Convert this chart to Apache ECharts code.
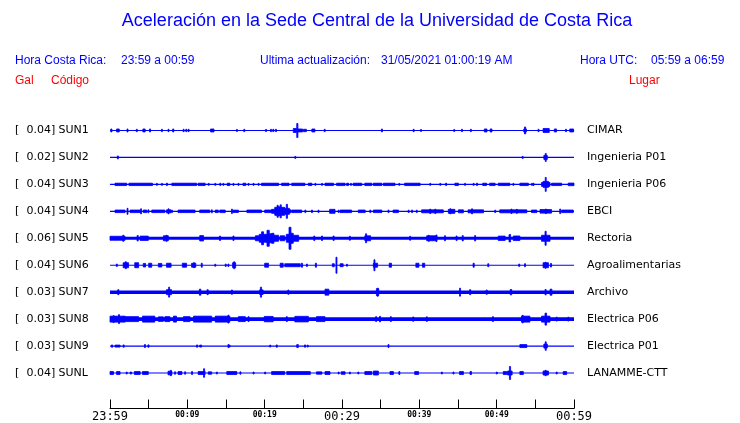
<!DOCTYPE html>
<html><head><meta charset="utf-8">
<script src="https://cdn.jsdelivr.net/npm/echarts@6/dist/echarts.min.js"></script>
<style>html,body{margin:0;padding:0;background:#fff}#c{width:740px;height:423px}</style>
</head><body><div id="c"></div>
<script>
// ---- DATA ----
const titleText = 'Aceleración en la Sede Central de la Universidad de Costa Rica';
const headerLabels = ['Hora Costa Rica:', 'Ultima actualización:', 'Hora UTC:'];
const headerValues = ['23:59 a 00:59', '31/05/2021 01:00:19 AM', '05:59 a 06:59'];
const columnHeads = ['Gal', 'Código', 'Lugar'];
const stations = ['SUN1','SUN2','SUN3','SUN4','SUN5','SUN6','SUN7','SUN8','SUN9','SUNL'];
const galValues = ['0.04','0.02','0.04','0.04','0.06','0.04','0.03','0.03','0.03','0.04'];
const places = ['CIMAR','Ingenieria P01','Ingenieria P06','EBCI','Rectoria','Agroalimentarias','Archivo','Electrica P06','Electrica P01','LANAMME-CTT'];
const tickLabels = ['23:59','','00:09','','00:19','','00:29','','00:39','','00:49','','00:59'];
// background noise half-amplitude of each trace
const noise = [0.6,0.6,0.6,0.6,1.6,0.6,1.8,1.8,0.6,0.6];
// bursts: [start minute, end minute, half-amplitude]
const sun1 = [[0.1,0.25,1.5],[0.85,1.2,1.5],[2.2,2.3,1.5],[3.4,3.5,1.2],[4.25,4.55,1.5],[5.1,5.25,1.5],[6.65,6.75,1.2],[7.5,7.6,1.2],[8.1,8.25,1.5],[9.45,9.55,1.2],[9.8,9.9,1.2],[10.1,10.2,1.2],[13.0,13.45,1.5],[16.35,16.45,1],[17.3,17.4,1.2],[20.1,20.25,1],[20.75,20.85,1.2],[21.05,21.15,1.2],[21.4,21.5,1.2],[23.7,24.1,2],[24.15,24.3,7],[24.3,24.9,1.5],[25.0,25.4,1.2],[26.1,26.5,1.5],[27.7,27.8,1.2],[35.1,35.2,1.5],[39.2,39.3,1.2],[40.15,40.25,1],[44.45,44.55,1],[45.45,45.55,1.2],[46.6,46.7,1.2],[48.4,48.75,1.5],[49.15,49.4,1.5],[53.5,53.85,1.5],[53.6,53.75,3.5],[55.35,55.45,1.2],[56.0,56.8,2],[57.45,57.75,1.5],[58.9,59.0,1.2],[59.45,59.95,1.5]];
const sun2 = [[0.95,1.05,1.5],[23.9,24.0,1],[53.3,53.4,1],[56.1,56.55,2],[56.28,56.4,4]];
const sun3 = [[0.65,2.15,1.2],[2.45,5.5,1.2],[6.0,6.1,1],[6.65,6.75,1],[7.3,7.4,1.2],[8.0,11.2,1.2],[11.4,12.3,1.2],[12.7,12.8,1],[13.55,13.65,1],[14.2,14.3,1.2],[14.6,14.7,1],[15.15,15.5,1.2],[15.9,16.0,1],[16.55,16.65,1],[17.2,17.55,1.2],[17.85,17.95,1],[18.5,18.6,1],[19.15,19.25,1],[19.6,21.8,1.2],[22.2,23.15,1.2],[23.5,25.2,1.2],[25.65,26.1,1.2],[26.5,26.6,1],[27.35,27.45,1],[27.8,28.9,1.2],[29.3,30.4,1.2],[30.6,30.85,1.2],[31.1,31.2,1],[31.45,32.55,1.2],[32.95,33.85,1.2],[34.05,35.15,1.2],[35.35,36.85,1.2],[37.35,37.45,1],[38.1,40.1,1.2],[41.35,41.45,1],[42.65,42.75,1],[43.4,43.5,1.2],[44.6,45.05,1.2],[45.85,45.95,1],[46.95,47.05,1],[47.4,47.5,1.2],[48.2,48.7,1.2],[49.1,49.8,1.2],[50.2,51.7,1.2],[52.1,52.2,1],[53.0,54.1,1.2],[54.5,54.6,1],[54.7,54.8,1.2],[55.8,56.9,2],[56.0,56.7,3],[56.28,56.4,7],[57.1,58.4,1.2],[59.25,60.0,1.3]];
const sun4 = [[0.65,1.95,1.3],[2.2,2.3,3],[2.6,3.9,1.3],[3.95,4.05,2.5],[4.3,4.75,1.3],[4.9,5.0,1.5],[5.4,7.1,1.3],[7.3,7.9,1.5],[7.5,7.6,2.5],[7.95,8.05,1.2],[8.8,11.0,1.3],[11.6,12.9,1.3],[13.1,13.2,1.5],[13.6,14.0,1.3],[14.2,14.9,1.3],[15.7,15.8,2.2],[15.9,16.6,1.2],[17.7,19.6,1.3],[20.0,20.9,1.3],[20.9,21.3,2],[21.3,21.6,4],[21.6,21.75,6],[21.75,22.0,4.5],[22.0,22.15,6.5],[22.15,22.6,4],[22.6,22.8,3],[22.8,22.95,7],[22.95,23.2,3],[23.2,23.4,1.5],[23.5,24.8,1.3],[25.2,25.3,1.3],[26.05,26.15,1.3],[26.9,27.0,1.2],[28.4,29.1,2],[29.5,29.6,1.2],[29.75,31.25,1.3],[32.1,33.0,1.3],[33.6,33.7,1.3],[34.05,35.15,1.3],[35.95,36.05,1.3],[36.6,37.3,1.3],[38.55,38.65,1.2],[39.0,39.1,1.3],[39.6,39.7,1.2],[40.3,43.1,1.5],[41.35,41.45,2.2],[42.0,42.1,2.2],[43.75,44.6,2],[43.95,44.05,2.5],[45.05,45.7,1.5],[46.3,48.3,1.5],[46.75,46.85,2.5],[49.75,49.85,1.2],[50.4,53.9,1.5],[51.85,51.95,2.2],[52.55,52.65,2],[54.5,55.2,1.3],[55.6,57.1,1.8],[56.3,56.4,2.3],[58.15,58.25,2.3],[58.4,59.9,1.3]];
const sun5 = [[0.0,1.95,2],[1.65,1.8,3],[3.5,3.65,2.7],[3.9,4.95,2.2],[6.9,7.55,2.5],[7.25,7.35,3],[11.6,12.1,2.7],[14.15,14.3,2.2],[15.9,16.0,2.3],[18.8,19.3,2.5],[19.3,19.6,4],[19.6,19.85,6.5],[19.85,20.3,4],[20.3,20.6,8],[20.6,20.9,4.5],[20.9,21.2,5],[21.2,21.8,3],[22.0,22.6,2.5],[22.8,23.15,4],[23.15,23.4,11],[23.4,23.7,5],[23.7,24.4,3],[26.35,26.45,2.3],[27.35,27.45,2.3],[28.85,28.95,2.3],[30.95,31.05,2],[32.95,33.7,2.5],[33.05,33.15,4.5],[38.75,38.85,2],[40.95,42.25,2.5],[41.15,41.25,3],[42.15,42.25,3.3],[43.25,43.35,2.5],[44.75,44.85,2.3],[45.55,45.65,2.7],[47.15,47.25,2.7],[50.2,51.1,2.2],[51.6,51.8,3.7],[52.15,53.0,2.3],[55.8,56.9,3],[56.25,56.4,7]];
const sun6 = [[0.82,0.9,1.2],[1.7,2.4,2.5],[1.98,2.08,3.5],[3.2,3.7,2.5],[4.3,4.6,1.8],[5.0,5.4,2],[6.25,6.7,1.8],[7.3,7.9,2],[9.35,9.9,2],[10.55,11.1,2],[10.8,10.9,2.5],[11.8,11.9,2],[13.55,13.65,1],[14.9,15.0,1.2],[15.25,15.35,1.2],[15.85,16.25,2.5],[16.0,16.1,3.5],[20.0,20.5,2],[22.0,22.4,2],[22.6,24.6,1.5],[24.75,24.9,2],[25.4,25.5,1.2],[26.55,26.7,2],[28.75,29.0,1.5],[29.22,29.32,8],[29.75,30.15,1.5],[30.58,30.65,1],[34.05,34.6,2],[34.13,34.23,5.5],[36.1,36.4,2],[39.55,39.95,2],[40.4,40.7,2],[46.95,47.1,2],[48.85,48.95,1.5],[52.85,52.95,1.2],[53.6,53.7,1.5],[56.0,56.7,2.5],[56.25,56.35,3],[56.95,57.1,1.8]];
const sun7 = [[1.0,1.15,2.5],[7.3,7.95,2.5],[7.58,7.68,5],[11.55,11.75,3],[12.55,12.7,2.5],[15.7,15.8,2.2],[19.35,19.8,2.3],[19.45,19.6,5],[23.0,23.1,2.2],[27.8,28.3,3],[34.45,34.75,3.5],[34.55,34.65,4],[45.2,45.3,4],[46.5,46.65,2.5],[48.65,48.75,2.2],[51.75,51.95,2.7],[56.25,56.4,2.7],[56.9,57.15,3]];
const sun8 = [[0.0,1.95,3],[0.4,0.5,3.5],[1.1,1.2,4.5],[1.95,3.7,2.5],[4.2,5.8,3],[6.25,6.9,2.3],[7.1,7.75,2.5],[8.2,8.6,3],[9.5,10.35,2.5],[10.8,13.15,3],[13.6,15.5,3],[15.25,15.35,4],[16.6,17.5,2.5],[17.85,17.95,2.5],[19.95,21.1,2.7],[22.8,22.9,2.5],[23.9,25.65,2.8],[26.7,27.8,2.5],[34.35,34.45,2.5],[34.85,34.95,2.8],[36.25,36.35,2.5],[39.15,39.25,2.2],[40.9,41.0,2.3],[49.45,49.55,2.5],[53.2,54.3,3],[53.3,53.4,3.8],[55.8,56.9,3],[56.25,56.45,6],[57.7,57.8,2],[59.2,59.3,2]];
const sun9 = [[0.2,0.3,1.2],[0.65,1.3,1],[1.7,1.8,1.2],[4.45,4.55,1.5],[4.9,5.05,1.2],[11.2,11.3,1.2],[11.6,11.85,1],[15.25,15.35,1.5],[15.4,15.5,1],[20.65,20.75,1],[21.5,21.6,1.2],[24.15,24.35,1.5],[25.15,25.25,1.2],[25.5,25.6,1],[35.95,36.05,1.5],[53.0,53.9,1.5],[56.1,56.55,2],[56.28,56.4,4.3]];
const sunl = [[0.0,0.45,1.5],[0.85,1.3,1.5],[2.1,2.2,1],[2.6,2.8,1],[3.15,3.9,1.5],[4.2,4.95,1.5],[7.5,8.0,1.8],[7.8,7.9,2.7],[8.35,8.45,1.2],[8.8,9.3,1.5],[9.65,9.75,1.2],[10.55,10.65,1.5],[11.4,12.3,1.5],[12.1,12.2,4.3],[12.7,13.15,1.2],[13.75,13.85,1],[15.1,16.4,1.5],[16.8,16.9,1.2],[18.5,18.6,1],[20.0,20.1,1],[20.9,22.6,1.5],[22.85,25.9,1.5],[26.7,27.4,1.2],[27.8,28.45,1.5],[29.5,29.6,1],[29.9,30.4,1.3],[30.95,31.05,1],[32.05,32.15,1],[32.95,33.85,1.5],[34.05,34.7,2],[36.2,36.65,1.5],[37.35,37.45,1.5],[39.4,39.9,1.5],[42.85,42.95,1],[44.35,44.45,1],[45.2,45.7,1.5],[46.55,46.75,1.5],[49.95,50.05,1],[50.85,51.3,1.5],[51.4,52.0,2],[51.65,51.8,6.5],[53.0,53.45,1.5],[56.0,56.7,2],[56.25,56.4,2.7],[57.7,57.8,1],[58.6,59.05,1.5]];
const traces = [sun1,sun2,sun3,sun4,sun5,sun6,sun7,sun8,sun9,sunl];

// ---- CHART ----
const S = 27; // amplitude units per trace row
const BLUE = '#0000ff';
const chart = echarts.init(document.getElementById('c'), null, {renderer:'canvas'});

const series = stations.map((code, i) => ({
  type: 'custom', name: code, xAxisIndex: 0, yAxisIndex: 0,
  silent: true, animation: false, clip: false,
  encode: {x: [0, 1], y: 2},
  data: [[0, 60, noise[i]]].concat(traces[i]),
  renderItem: (params, api) => {
    const rowY = -i * S;
    const a = api.value(2);
    const p1 = api.coord([api.value(0), rowY + a]);
    const p2 = api.coord([api.value(1), rowY - a]);
    const isBurst = params.dataIndex > 0;
    return {type: 'rect',
      shape: {x: p1[0], y: p1[1], width: Math.max(p2[0] - p1[0], 1), height: Math.max(p2[1] - p1[1], 1)},
      style: isBurst ? {fill: BLUE, stroke: BLUE, lineWidth: 0.8} : {fill: BLUE}};
  }
}));

const txt = (x, y, text, color, size, align) => ({type: 'text', x: x, y: y,
  style: {text: text, fill: color, font: size + 'px "Liberation Sans", Arial, sans-serif', textAlign: align || 'left', textVerticalAlign: 'middle'}});

chart.setOption({
  animation: false,
  backgroundColor: '#fff',
  grid: {left: 110, width: 464, top: 117, height: 270},
  xAxis: {type: 'value', min: 0, max: 60, interval: 5, offset: 22, position: 'bottom',
    axisLine: {show: true, onZero: false, lineStyle: {color: '#000', width: 1}},
    axisTick: {show: true, inside: true, length: 9, lineStyle: {color: '#000'}},
    splitLine: {show: false},
    axisLabel: {show: true, interval: 0, showMinLabel: true, showMaxLabel: true, margin: 2,
      formatter: v => { const k = Math.round(v / 5); const t = tickLabels[k]; if (!t) return ''; return (k % 6 === 0) ? '{big|' + t + '}' : '{small|' + t + '}'; },
      rich: {
        big: {fontFamily: '"DejaVu Sans Mono", monospace', fontSize: 12, color: '#000', lineHeight: 13},
        small: {fontFamily: '"DejaVu Sans Mono", monospace', fontSize: 8, fontWeight: 'bold', color: '#000', lineHeight: 9}
      }}
  },
  yAxis: [
    {type: 'value', min: -9.5 * S, max: 0.5 * S, show: false},
    {type: 'category', position: 'left', inverse: true, data: stations,
      axisLine: {show: false}, axisTick: {show: false}, splitLine: {show: false},
      axisLabel: {margin: 95, align: 'left', interval: 0,
        formatter: (v, idx) => '{a|[}{b|' + galValues[idx] + ']}{c| ' + v + '}',
        rich: {
          a: {width: 12, align: 'left', fontFamily: '"DejaVu Sans", sans-serif', fontSize: 11, color: '#000'},
          b: {width: 28, align: 'right', fontFamily: '"DejaVu Sans", sans-serif', fontSize: 11, color: '#000'},
          c: {fontFamily: '"DejaVu Sans", sans-serif', fontSize: 11, color: '#000'}
        }}},
    {type: 'category', position: 'right', inverse: true, data: places,
      axisLine: {show: false}, axisTick: {show: false}, splitLine: {show: false},
      axisLabel: {margin: 13, interval: 0, fontFamily: '"DejaVu Sans", sans-serif', fontSize: 11, color: '#000'}}
  ],
  graphic: [
    txt(377, 21, titleText, BLUE, 18, 'center'),
    txt(15, 61, headerLabels[0], BLUE, 12),
    txt(121, 61, headerValues[0], BLUE, 12),
    txt(260, 61, headerLabels[1], BLUE, 12),
    txt(381, 61, headerValues[1], BLUE, 12),
    txt(580, 61, headerLabels[2], BLUE, 12),
    txt(651, 61, headerValues[2], BLUE, 12),
    txt(15, 81, columnHeads[0], '#ff0000', 12),
    txt(51, 81, columnHeads[1], '#ff0000', 12),
    txt(629, 81, columnHeads[2], '#ff0000', 12)
  ],
  series: series
});
</script></body></html>
